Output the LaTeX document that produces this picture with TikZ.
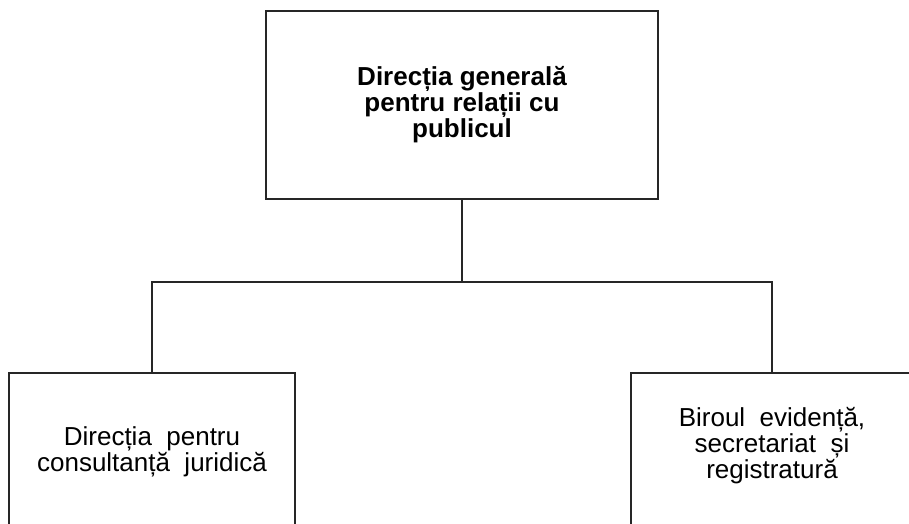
\documentclass[tikz,border=0pt]{standalone}
\usepackage{fontspec}
\setmainfont{Liberation Sans}
\begin{document}
\begin{tikzpicture}[x=1pt,y=-1pt,
  box/.style={draw=black!85, line width=1.2pt, rectangle, inner sep=0pt},
  lbl/.style={align=center, font=\fontsize{26}{26}\selectfont, inner sep=0pt},
  conn/.style={draw=black!85, line width=1.2pt}]
\useasboundingbox (0,0) rectangle (909,524);
\clip (0,0) rectangle (909,524);
\node[box, minimum width=392pt, minimum height=188pt, align=center,
      font=\fontsize{26}{26}\selectfont\bfseries] (top) at (462,105)
      {Direcția generală\\pentru relații cu\\publicul};
\node[box, minimum width=286pt, minimum height=200pt] (l) at (152,473) {};
\node[box, minimum width=329pt, minimum height=200pt] (r) at (795.5,473) {};
\node[lbl] (lt) at (152,452) {Direcția\ \ pentru\\consultanță\ \ juridică};
\node[lbl] (rt) at (772,446) {Biroul\ \ evidență,\\secretariat\ \ și\\registratură};
\coordinate (j) at (462,282);
\coordinate (rc) at (772,373);
\draw[conn] (top.south) -- (j);
\draw[conn] (j) -| (l.north);
\draw[conn] (j) -| (rc);
\end{tikzpicture}
\end{document}
